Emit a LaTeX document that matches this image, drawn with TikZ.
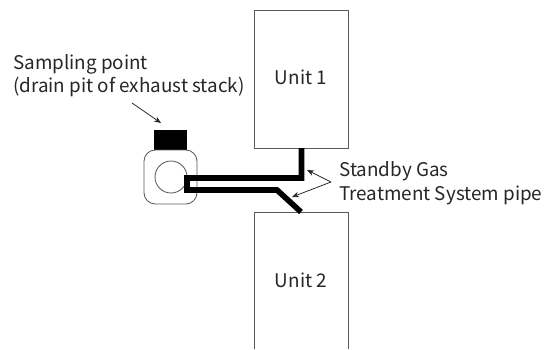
\documentclass[tikz,border=0pt]{standalone}
\usepackage{fontspec}
\setmainfont{Noto Sans CJK JP}
\usetikzlibrary{arrows.meta}
\tikzset{
  wall/.style={draw=black!65, line width=0.6pt},
  pipe/.style={draw=black, line width=4pt, line join=miter},
  lbl/.style={font=\fontsize{13.4}{13.4}\selectfont, inner sep=0pt, text=black!85},
  pointer/.style={-{Stealth[length=5pt,width=4pt]}, line width=0.55pt, draw=black!85},
}
\begin{document}
\begin{tikzpicture}[x=0.025cm, y=-0.025cm, >=Stealth, line cap=butt]
\useasboundingbox (0,0) rectangle (544,349);
% Unit 1, Unit 2
\draw[wall] (254,10) rectangle (348,148);
\draw[wall] (254,349) -- (254,212) -- (348,212) -- (348,349);
\node[lbl] (unitone) at (301,77) {Unit 1};
\node[lbl] (unittwo) at (301,280) {Unit 2};
% sampling point
\fill[black] (154,130) rectangle (187,150);
\draw[wall, rounded corners=8pt] (144,150) rectangle (197,204);
\draw[wall] (171,177) circle (16);
% pipes
\draw[pipe] (301.5,148) -- (301.5,178) -- (187,178) -- (187,190) -- (277,190) -- (301,212);
% labels
\node[lbl, anchor=west] (samp) at (13,64) {Sampling point};
\node[lbl, anchor=west] (drain) at (13,87) {(drain pit of exhaust stack)};
\node[lbl, anchor=west] (standby) at (339,171) {Standby Gas};
\node[lbl, anchor=west] (treat) at (339,195) {Treatment System pipe};
% arrows
\coordinate (sampfrom) at (132,103);
\coordinate (sampto) at (161,123);
\coordinate (split) at (331,182);
\coordinate (pipeone) at (307,170);
\coordinate (pipetwo) at (292,197);
\draw[pointer] (sampfrom) -- (sampto);
\draw[pointer] (split) -- (pipeone);
\draw[pointer] (split) -- (pipetwo);
\end{tikzpicture}
\end{document}
